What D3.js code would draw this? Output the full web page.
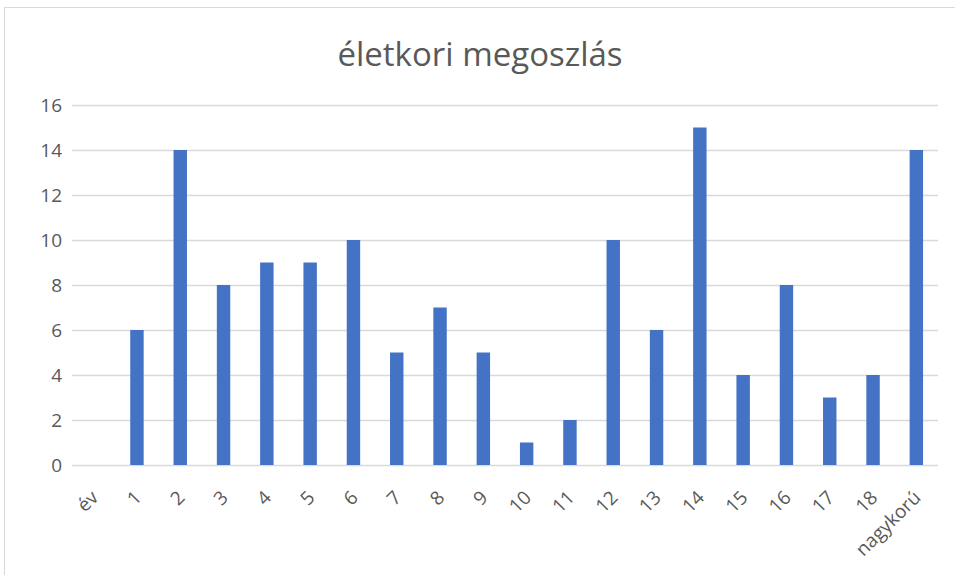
<!DOCTYPE html>
<html lang="hu">
<head>
	<meta charset="UTF-8">
	<title>életkori megoszlás</title>
	<script src="https://d3js.org/d3.v7.min.js"></script>
	<style>
		body { margin: 0; background: #fff; }
		text { font-family: "Open Sans", "Noto Sans", sans-serif; fill: #595959; }
	</style>
</head>
<body>
	<svg id="chart"></svg>
	<script>
		var categories = ["év", "1", "2", "3", "4", "5", "6", "7", "8", "9", "10", "11", "12", "13", "14", "15", "16", "17", "18", "nagykorú"];
		var counts = [0, 6, 14, 8, 9, 9, 10, 5, 7, 5, 1, 2, 10, 6, 15, 4, 8, 3, 4, 14];
		var yTicks = [0, 2, 4, 6, 8, 10, 12, 14, 16];
		var title = "életkori megoszlás";

		var width = 955, height = 575;
		var margin = {top: 105, right: 17, bottom: 110, left: 72};

		var svg = d3.select("#chart").attr("width", width).attr("height", height);

		// chart frame
		svg.append("rect")
			.attr("x", 4.5).attr("y", 7.5)
			.attr("width", 960).attr("height", 600)
			.attr("fill", "none").attr("stroke", "#d9d9d9");

		var x = d3.scaleBand().domain(categories)
			.range([margin.left, width - margin.right])
			.paddingInner(0.69).paddingOuter(0.345);
		var y = d3.scaleLinear().domain([0, 16])
			.range([height - margin.bottom, margin.top]);

		svg.append("text")
			.attr("x", 480).attr("y", 66)
			.attr("text-anchor", "middle")
			.style("font-size", "33px")
			.text(title);

		// gridlines
		var yAxis = d3.axisLeft(y).tickValues(yTicks)
			.tickSize(-(width - margin.left - margin.right)).tickPadding(10);
		var gy = svg.append("g")
			.attr("transform", "translate(" + margin.left + ",0)")
			.call(yAxis);
		gy.select(".domain").remove();
		gy.selectAll("line").attr("stroke", "#d9d9d9").attr("stroke-width", 1.5);
		gy.selectAll("text").style("font-size", "19px").attr("fill", "#595959");

		svg.selectAll("rect.bar").data(counts).enter().append("rect")
			.attr("class", "bar")
			.attr("x", function(d, i) { return x(categories[i]); })
			.attr("width", x.bandwidth())
			.attr("y", function(d) { return y(d); })
			.attr("height", function(d) { return y(0) - y(d); })
			.attr("fill", "#4472c4");

		var xAxis = d3.axisBottom(x).tickSize(0).tickPadding(0);
		var gx = svg.append("g")
			.attr("transform", "translate(0," + (height - margin.bottom) + ")")
			.call(xAxis);
		gx.select(".domain").remove();
		gx.selectAll("text")
			.style("font-size", "19px")
			.attr("fill", "#595959")
			.attr("text-anchor", "end")
			.attr("dy", "0.35em")
			.attr("transform", "translate(1,29) rotate(-45)");
	</script>
</body>
</html>
